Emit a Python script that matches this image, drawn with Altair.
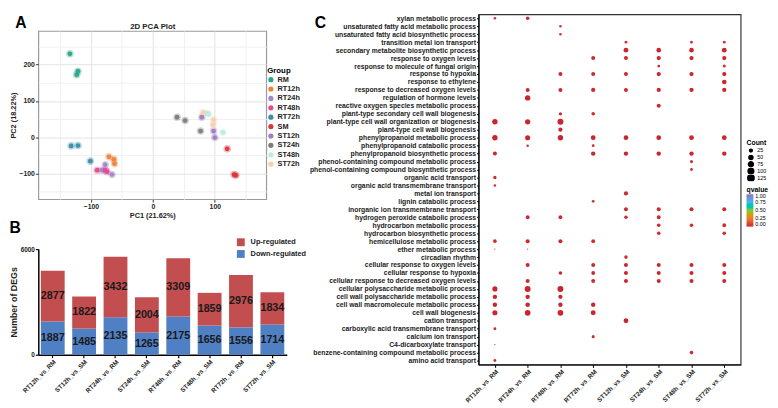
import altair as alt
import pandas as pd

FONT = "Liberation Sans"

# ---------------- Panel A: PCA ----------------
PCA_GROUPS = ["RM", "RT12h", "RT24h", "RT48h", "RT72h", "SM", "ST12h", "ST24h", "ST48h", "ST72h"]
PCA_COLORS = ["#2BA58A", "#E8853A", "#9F88C5", "#E34A94", "#3C8EA8",
              "#D9363E", "#A07CC0", "#7D7D7D", "#BDEBDD", "#F8CFAE"]
PC1 = {
    "RM": [-134, -121, -123],
    "RT12h": [-71, -63, -62],
    "RT24h": [-77, -82, -66],
    "RT48h": [-90, -77, -74],
    "RT72h": [-132, -121, -101],
    "SM": [120, 131, 134],
    "ST12h": [79, 98, 100],
    "ST24h": [39, 52, 77],
    "ST48h": [87, 90, 113],
    "ST72h": [81, 98, 97],
}
PC2 = {
    "RM": [230, 182, 172],
    "RT12h": [-54, -61, -73],
    "RT24h": [-76, -91, -103],
    "RT48h": [-91, -91, -95],
    "RT72h": [-24, -23, -66],
    "SM": [-32, -103, -105],
    "ST12h": [55, 17, -1],
    "ST24h": [55, 46, 17],
    "ST48h": [66, 64, 13],
    "ST72h": [68, 48, 34],
}

# ---------------- Panel B: DEGs ----------------
DEG_COMPARISONS = ["RT12h_vs_RM", "ST12h_vs_SM", "RT24h_vs_RM", "ST24h_vs_SM",
                   "RT48h_vs_RM", "ST48h_vs_SM", "RT72h_vs_RM", "ST72h_vs_SM"]
UP = [2877, 1822, 3432, 2004, 3309, 1859, 2976, 1834]
DOWN = [1887, 1485, 2135, 1265, 2175, 1656, 1556, 1714]

# ---------------- Panel C: GO dot plot ----------------
C_COMPARISONS = ["RT12h_vs_RM", "RT24h_vs_RM", "RT48h_vs_RM", "RT72h_vs_RM",
                 "ST12h_vs_SM", "ST24h_vs_SM", "ST48h_vs_SM", "ST72h_vs_SM"]
TERMS = [
    "xylan metabolic process",
    "unsaturated fatty acid metabolic process",
    "unsaturated fatty acid biosynthetic process",
    "transition metal ion transport",
    "secondary metabolite biosynthetic process",
    "response to oxygen levels",
    "response to molecule of fungal origin",
    "response to hypoxia",
    "response to ethylene",
    "response to decreased oxygen levels",
    "regulation of hormone levels",
    "reactive oxygen species metabolic process",
    "plant-type secondary cell wall biogenesis",
    "plant-type cell wall organization or biogenesis",
    "plant-type cell wall biogenesis",
    "phenylpropanoid metabolic process",
    "phenylpropanoid catabolic process",
    "phenylpropanoid biosynthetic process",
    "phenol-containing compound metabolic process",
    "phenol-containing compound biosynthetic process",
    "organic acid transport",
    "organic acid transmembrane transport",
    "metal ion transport",
    "lignin catabolic process",
    "inorganic ion transmembrane transport",
    "hydrogen peroxide catabolic process",
    "hydrocarbon metabolic process",
    "hydrocarbon biosynthetic process",
    "hemicellulose metabolic process",
    "ether metabolic process",
    "circadian rhythm",
    "cellular response to oxygen levels",
    "cellular response to hypoxia",
    "cellular response to decreased oxygen levels",
    "cellular polysaccharide metabolic process",
    "cell wall polysaccharide metabolic process",
    "cell wall macromolecule metabolic process",
    "cell wall biogenesis",
    "cation transport",
    "carboxylic acid transmembrane transport",
    "calcium ion transport",
    "C4-dicarboxylate transport",
    "benzene-containing compound metabolic process",
    "amino acid transport",
]
HIT_ROWS = {
    "RT12h_vs_RM": [1, 14, 16, 18, 21, 22, 29, 30, 35, 36, 37, 38, 40, 42, 44],
    "RT24h_vs_RM": [1, 10, 11, 14, 16, 17, 26, 29, 30, 32, 34, 35, 36, 37, 38],
    "RT48h_vs_RM": [2, 3, 8, 10, 13, 14, 15, 16, 26, 29, 33, 35, 36, 37, 38],
    "RT72h_vs_RM": [6, 8, 10, 13, 16, 17, 18, 24, 29, 32, 33, 34, 37, 38, 41],
    "ST12h_vs_SM": [4, 5, 6, 8, 10, 16, 18, 23, 25, 26, 31, 32, 33, 34, 39],
    "ST24h_vs_SM": [5, 6, 7, 8, 10, 12, 16, 18, 25, 26, 27, 28, 32, 33, 34],
    "ST48h_vs_SM": [4, 5, 6, 8, 10, 16, 18, 19, 20, 25, 27, 32, 33, 34, 43],
    "ST72h_vs_SM": [4, 5, 6, 7, 8, 9, 10, 16, 18, 25, 27, 28, 32, 33, 34],
}
HIT_COUNTS = {
    "RT12h_vs_RM": [20, 90, 90, 50, 35, 20, 40, 5, 80, 60, 60, 80, 25, 5, 25],
    "RT24h_vs_RM": [40, 50, 90, 85, 80, 20, 45, 50, 5, 50, 50, 110, 60, 65, 100],
    "RT48h_vs_RM": [20, 20, 50, 50, 35, 110, 55, 90, 45, 50, 40, 110, 55, 60, 100],
    "RT72h_vs_RM": [50, 50, 55, 40, 70, 25, 60, 25, 45, 50, 45, 50, 60, 75, 30],
    "ST12h_vs_SM": [25, 70, 50, 50, 50, 70, 60, 55, 50, 40, 40, 50, 50, 50, 70],
    "ST24h_vs_SM": [65, 55, 25, 55, 55, 50, 70, 60, 50, 45, 40, 40, 50, 50, 50],
    "ST48h_vs_SM": [25, 65, 55, 55, 55, 70, 60, 30, 25, 50, 40, 50, 50, 50, 40],
    "ST72h_vs_SM": [25, 70, 55, 30, 55, 65, 55, 70, 60, 50, 45, 40, 50, 50, 50],
}
HIT_QVALUES = {
    "RT12h_vs_RM": [0.02, 0.001, 0.001, 0.004, 0.01, 0.02, 0.01, 0.03, 0.001, 0.002, 0.002, 0.001, 0.02, 0.04, 0.02],
    "RT24h_vs_RM": [0.01, 0.01, 0.001, 0.001, 0.001, 0.03, 0.01, 0.01, 0.04, 0.01, 0.01, 0.001, 0.002, 0.002, 0.001],
    "RT48h_vs_RM": [0.03, 0.03, 0.01, 0.01, 0.02, 0.001, 0.005, 0.001, 0.01, 0.01, 0.01, 0.001, 0.005, 0.003, 0.001],
    "RT72h_vs_RM": [0.01, 0.01, 0.01, 0.02, 0.002, 0.03, 0.005, 0.03, 0.01, 0.01, 0.01, 0.01, 0.005, 0.002, 0.03],
    "ST12h_vs_SM": [0.03, 0.001, 0.005, 0.005, 0.005, 0.001, 0.002, 0.01, 0.01, 0.02, 0.02, 0.005, 0.005, 0.005, 0.002],
    "ST24h_vs_SM": [0.002, 0.005, 0.03, 0.005, 0.005, 0.01, 0.001, 0.002, 0.01, 0.01, 0.02, 0.02, 0.005, 0.005, 0.005],
    "ST48h_vs_SM": [0.03, 0.002, 0.005, 0.005, 0.005, 0.001, 0.002, 0.03, 0.03, 0.01, 0.02, 0.005, 0.005, 0.005, 0.02],
    "ST72h_vs_SM": [0.03, 0.001, 0.005, 0.03, 0.005, 0.002, 0.005, 0.001, 0.002, 0.01, 0.02, 0.02, 0.005, 0.005, 0.005],
}

# ================= build tables =================
pca_df = pd.DataFrame([
    {"Group": g, "PC1": a, "PC2": b}
    for g in PCA_GROUPS for a, b in zip(PC1[g], PC2[g])
])

deg_df = pd.DataFrame(
    [{"comparison": c, "type": "Down-regulated", "value": d, "ord": 0} for c, d in zip(DEG_COMPARISONS, DOWN)]
    + [{"comparison": c, "type": "Up-regulated", "value": u, "ord": 1} for c, u in zip(DEG_COMPARISONS, UP)]
)

go_df = pd.DataFrame([
    {"comparison": c, "term": TERMS[r - 1], "Count": n, "qvalue": q}
    for c in C_COMPARISONS
    for r, n, q in zip(HIT_ROWS[c], HIT_COUNTS[c], HIT_QVALUES[c])
])

# ================= Panel A =================
A_W, A_H = 233, 172
major = "datum.value % 100 === 0"
x_dom = [-185, 183]
y_dom = [-171, 293]
xscaleA = alt.Scale(domain=x_dom, nice=False, zero=False)
yscaleA = alt.Scale(domain=y_dom, nice=False, zero=False)

def pca_axis(title, values):
    return alt.Axis(title=title, values=values,
                    labelExpr=f"{major} ? datum.label : ''",
                    tickOpacity={"condition": {"test": major, "value": 1}, "value": 0},
                    gridColor={"condition": {"test": major, "value": "#E2E2E2"}, "value": "#F0F0F0"},
                    domain=False, tickColor="#333333", tickSize=3, labelFontSize=7,
                    labelFontWeight="bold", labelColor="#222222", titleFontSize=7.5,
                    titleFontWeight="bold", titleColor="#222222", labelPadding=1, titlePadding=2)

xA = alt.X("PC1:Q", scale=xscaleA, axis=pca_axis("PC1 (21.62%)", [-150, -100, -50, 0, 50, 100, 150]))
yA = alt.Y("PC2:Q", scale=yscaleA, axis=pca_axis("PC2 (18.22%)", [-150, -100, -50, 0, 50, 100, 150, 200, 250]))
colA = alt.Color("Group:N", scale=alt.Scale(domain=PCA_GROUPS, range=PCA_COLORS),
                 legend=alt.Legend(title="Group", orient="none", legendX=A_W + 1, legendY=37,
                                   symbolType="circle", symbolSize=28, symbolOpacity=1,
                                   labelFontSize=7.5, labelFontWeight="bold", labelColor="#222222",
                                   titleFontSize=8, titleFontWeight="bold", titlePadding=1,
                                   rowPadding=0.6, labelOffset=3))
base_A = alt.Chart(pca_df)
halo = base_A.mark_circle(size=60, opacity=0.35).encode(x=xA, y=yA, color=colA)
core = base_A.mark_circle(size=24, opacity=0.95).encode(x=xA, y=yA, color=colA)
chart_A = alt.layer(halo, core).properties(
    width=A_W, height=A_H,
    view=alt.ViewBackground(stroke="#9A9A9A", strokeWidth=1.2),
)

# header strip above panel A: panel letter (axis title) and plot heading (axis label)
header_A = base_A.mark_point(opacity=0).encode(
    x=alt.X("PC1:Q", scale=xscaleA,
            axis=alt.Axis(values=[-1], labelExpr="'2D PCA Plot'", labelFontSize=8,
                          labelFontWeight="bold", labelColor="#222222", ticks=False, tickSize=0,
                          domain=False, grid=False, labelPadding=0, title=None)),
    y=alt.Y("PC2:Q", scale=yscaleA,
            axis=alt.Axis(title="A", labels=False, ticks=False, domain=False, grid=False,
                          titleX=-24, titleY=0, titleAngle=0, titleAlign="left",
                          titleBaseline="top", titleFontSize=16, titleFontWeight="bold",
                          titleColor="black")),
).properties(width=A_W, height=8, view=alt.ViewBackground(stroke=None))

# ================= Panel B =================
B_W, B_H = 254, 108
xB = alt.X("comparison:N", sort=DEG_COMPARISONS,
           scale=alt.Scale(paddingInner=0.24, paddingOuter=0.08),
           axis=alt.Axis(title=None, labelAngle=-45, labelFontSize=6.5, labelFontWeight="bold",
                         labelColor="#222222", domainColor="black", domainWidth=1.5,
                         tickColor="black", tickWidth=1.2, tickSize=3, labelPadding=1))
yscaleB = alt.Scale(domain=[0, 6000], nice=False)
bars = alt.Chart(deg_df).mark_bar().encode(
    x=xB,
    y=alt.Y("value:Q", stack="zero", scale=yscaleB,
            axis=alt.Axis(title="Number of DEGs", values=[0, 1000, 2000, 3000, 4000, 5000, 6000],
                          format="d", grid=False, labelFontSize=6.5, labelFontWeight="bold",
                          labelColor="#222222", titleFontSize=9, titleFontWeight="bold",
                          titleColor="#222222", domainColor="black", domainWidth=1.5,
                          tickColor="black", tickWidth=1.2, tickSize=3, labelPadding=1,
                          titlePadding=2)),
    color=alt.Color("type:N", scale=alt.Scale(domain=["Up-regulated", "Down-regulated"],
                                              range=["#C24E4F", "#4F80C3"]),
                    legend=alt.Legend(title=None, orient="none", legendX=203, legendY=-11,
                                      symbolType="square", symbolSize=64, symbolStrokeWidth=0,
                                      labelFontSize=7.5, labelFontWeight="bold",
                                      labelColor="#222222", rowPadding=4, labelOffset=6)),
    order=alt.Order("ord:Q", sort="ascending"),
)
labels = alt.Chart(deg_df).transform_stack(
    stack="value", groupby=["comparison"], as_=["v0", "v1"],
    sort=[alt.SortField("ord", order="ascending")],
).transform_calculate(mid="(datum.v0 + datum.v1) / 2").mark_text(
    fontSize=11, fontWeight="bold", color="#1A1A1A", font=FONT
).encode(
    x=alt.X("comparison:N", sort=DEG_COMPARISONS),
    y=alt.Y("mid:Q", scale=yscaleB),
    text=alt.Text("value:Q"),
)
chart_B = alt.layer(bars, labels).properties(
    width=B_W, height=B_H,
    title=alt.TitleParams("B", anchor="start", frame="bounds", fontSize=16, fontWeight="bold",
                          offset=2, color="black"),
    view=alt.ViewBackground(stroke=None),
)

# ================= Panel C =================
C_W, C_H = 268, 358
chart_C = alt.Chart(go_df).mark_circle(opacity=1).encode(
    x=alt.X("comparison:N", sort=C_COMPARISONS,
            scale=alt.Scale(paddingInner=0, paddingOuter=0.09),
            axis=alt.Axis(title=None, labelAngle=-45, labelFontSize=6.5, labelFontWeight="bold",
                          labelColor="#222222", domainColor="black", domainWidth=1.2,
                          tickColor="black", tickSize=3, labelPadding=1)),
    y=alt.Y("term:N", sort=TERMS, scale=alt.Scale(paddingInner=0, paddingOuter=0),
            axis=alt.Axis(title="C", titleAngle=0, titleX=-168, titleY=0, titleAlign="left",
                          titleBaseline="top", titleFontSize=16, titleFontWeight="bold",
                          titleColor="black", labelFontSize=7, labelFontWeight="bold",
                          labelColor="#222222", labelLimit=300, domainColor="black",
                          domainWidth=1.2, tickColor="black", tickSize=2, labelPadding=1)),
    size=alt.Size("Count:Q", scale=alt.Scale(domain=[0, 130], range=[0, 44]),
                  legend=alt.Legend(title="Count", orient="none", legendX=C_W + 6, legendY=128,
                                    values=[25, 50, 75, 100, 125], symbolFillColor="black",
                                    symbolStrokeColor="black", titleFontSize=7, titleFontWeight="bold",
                                    labelFontSize=5.5, rowPadding=0, clipHeight=6.5,
                                    labelOffset=2, titlePadding=1)),
    color=alt.Color("qvalue:Q",
                    scale=alt.Scale(domain=[0, 0.25, 0.5, 0.75, 1.0],
                                    range=["#C9262E", "#EE7A30", "#8CC43F", "#4FB6E0", "#8E6FC0"]),
                    legend=alt.Legend(title="qvalue", orient="none", legendX=C_W + 6, legendY=176,
                                      values=[0, 0.25, 0.5, 0.75, 1.0], format=".2f",
                                      gradientLength=33, gradientThickness=7, labelOverlap=False,
                                      titleFontSize=7, titleFontWeight="bold", labelFontSize=5.5,
                                      titlePadding=1, labelOffset=2)),
).properties(
    width=C_W, height=C_H,
    view=alt.ViewBackground(stroke="#333333", strokeWidth=1.2),
)

left = alt.vconcat(header_A, chart_A, chart_B, spacing=0).resolve_scale(
    color="independent").resolve_legend(color="independent")
chart = alt.hconcat(left, chart_C, spacing=2).resolve_scale(
    color="independent", size="independent"
).resolve_legend(color="independent", size="independent").properties(padding=0).configure(font=FONT)

chart.save("out.html", embed_options={"renderer": "svg", "actions": False})
